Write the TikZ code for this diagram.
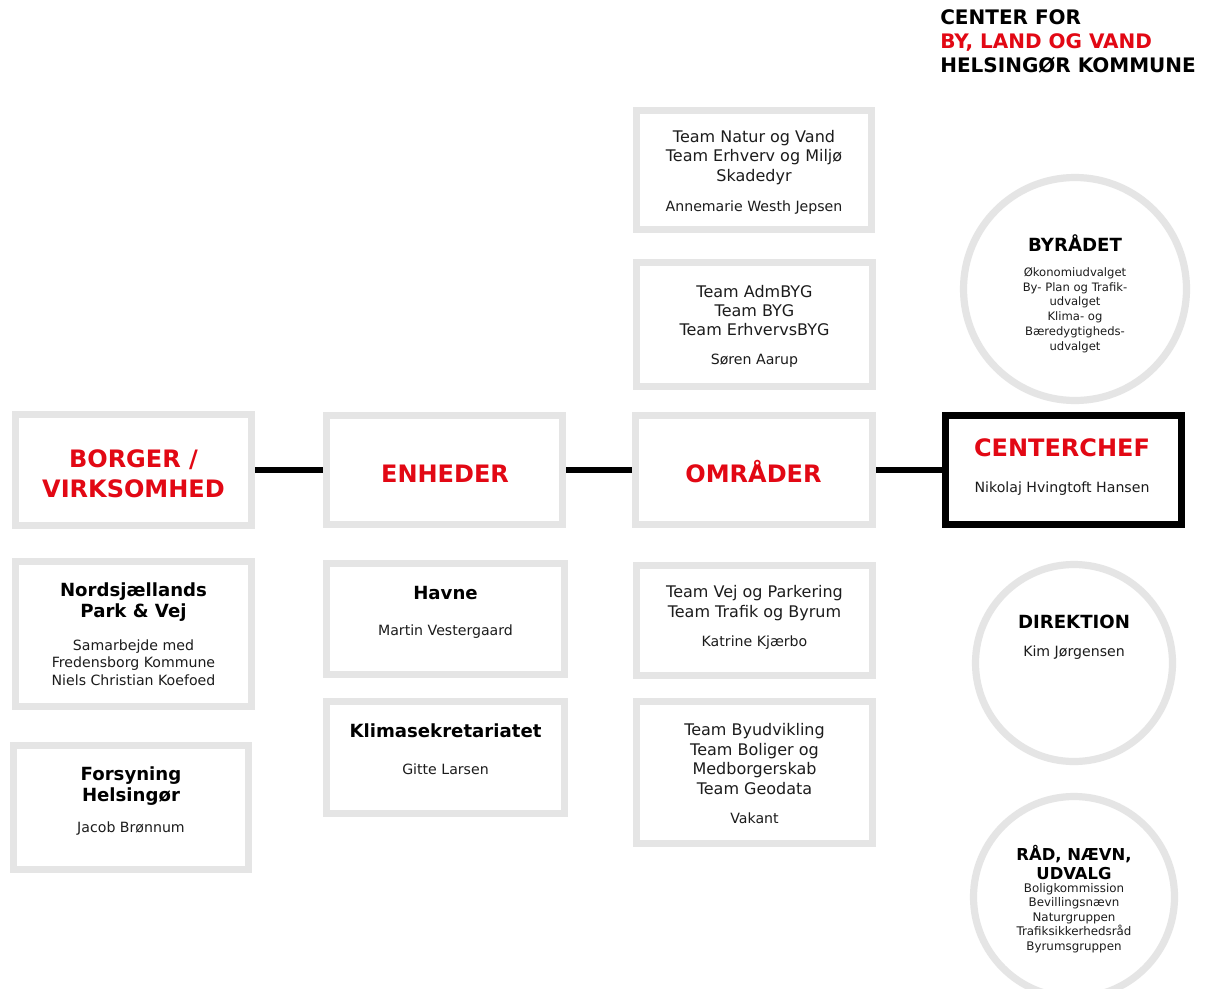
\documentclass[tikz,border=0pt]{standalone}
\usepackage{fontspec}
\setmainfont{DejaVu Sans}
\definecolor{ring}{RGB}{229,229,229}
\definecolor{hred}{RGB}{226,8,20}
\definecolor{txt}{RGB}{28,28,28}
\tikzset{
  gbox/.style={draw=ring, line width=5.4pt, rectangle, inner sep=0pt, fill=white},
  kbox/.style={draw=black, line width=5.25pt, rectangle, inner sep=0pt, fill=white},
  gcirc/.style={draw=ring, line width=5.4pt, circle, inner sep=0pt, fill=white},
  conn/.style={draw=black, line width=4.9pt},
  tl/.style={font=\fontsize{12}{14.6}\selectfont, align=center, text=txt, inner sep=0pt},
  nm/.style={font=\fontsize{10.6}{13.1}\selectfont, align=center, text=txt, inner sep=0pt},
  redh/.style={font=\bfseries\fontsize{18}{21}\selectfont, align=center, text=hred, inner sep=0pt},
  bt/.style={font=\bfseries\fontsize{13.6}{15.8}\selectfont, align=center, text=black, inner sep=0pt},
  sm/.style={font=\fontsize{8.7}{11.1}\selectfont, align=center, text=txt, inner sep=0pt},
  hdr/.style={font=\bfseries\fontsize{15}{18}\selectfont, align=left, inner sep=0pt, anchor=west},
}
\newcommand\gboxat[6]{\node[#6, minimum width={(#4-#2-7)*0.75pt}, minimum height={(#5-#3-7)*0.75pt}] (#1) at ({(#2+#4)/2},{(#3+#5)/2}) {};}
\begin{document}
\begin{tikzpicture}[x=0.75pt,y=-0.75pt]
\useasboundingbox (0,0) rectangle (1205,988);
\clip (0,0) rectangle (1205,988);
\fill[white] (0,0) rectangle (1205,988);

% header
\node[hdr] (header) at (940,41) {CENTER FOR\\\textcolor{hred}{BY, LAND OG VAND}\\HELSINGØR KOMMUNE};

% boxes
\gboxat{borger}{12}{411}{255}{529}{gbox}
\gboxat{enheder}{323}{412}{566}{528}{gbox}
\gboxat{omrader}{632}{412}{876}{528}{gbox}
\gboxat{chef}{942}{412}{1185}{528}{kbox}
\gboxat{natur}{633}{107}{875}{233}{gbox}
\gboxat{admbyg}{633}{259}{876}{390}{gbox}
\gboxat{vej}{633}{562}{876}{679}{gbox}
\gboxat{byudv}{633}{698}{876}{847}{gbox}
\gboxat{havne}{323}{560}{568}{678}{gbox}
\gboxat{klima}{323}{698}{568}{817}{gbox}
\gboxat{nord}{12}{558}{255}{710}{gbox}
\gboxat{fors}{10}{742}{252}{873}{gbox}

% circles
\node[gcirc, minimum size=167.25pt] (byraad) at (1075,289) {};
\node[gcirc, minimum size=147.75pt] (direk) at (1074,663) {};
\node[gcirc, minimum size=150.75pt] (raad) at (1074,897) {};

% connectors
\draw[conn] (borger.east) -- (enheder.west);
\draw[conn] (enheder.east) -- (omrader.west);
\draw[conn] (omrader.east) -- (chef.west);

% texts
\node[redh] (borger-t) at (133.5,474) {BORGER /\\[1.5pt]VIRKSOMHED};
\node[redh] (enheder-t) at (445,474) {ENHEDER};
\node[redh] (omrader-t) at (753.5,472) {OMRÅDER};
\node[redh] (chef-t) at (1062,448) {CENTERCHEF};
\node[nm] (chef-n) at (1062,489) {Nikolaj Hvingtoft Hansen};

\node[tl] (natur-t) at (754,157.5) {Team Natur og Vand\\Team Erhverv og Miljø\\Skadedyr};
\node[nm] (natur-n) at (754,208) {Annemarie Westh Jepsen};
\node[tl] (admbyg-t) at (754.5,310.5) {Team AdmBYG\\Team BYG\\Team ErhvervsBYG};
\node[nm] (admbyg-n) at (754.5,361) {Søren Aarup};
\node[tl] (vej-t) at (754.5,603) {Team Vej og Parkering\\Team Trafik og Byrum};
\node[nm] (vej-n) at (754.5,643) {Katrine Kjærbo};
\node[tl] (byudv-t) at (754.5,759) {Team Byudvikling\\Team Boliger og\\Medborgerskab\\Team Geodata};
\node[nm] (byudv-n) at (754.5,818) {Vakant};

\node[bt] (havne-t) at (445.5,593) {Havne};
\node[nm] (havne-n) at (445.5,632) {Martin Vestergaard};
\node[bt] (klima-t) at (445.5,731) {Klimasekretariatet};
\node[nm] (klima-n) at (445.5,769) {Gitte Larsen};

\node[bt] (nord-t) at (133.5,602.5) {Nordsjællands\\Park \& Vej};
\node[nm] (nord-n) at (133.5,662.5) {Samarbejde med\\Fredensborg Kommune\\Niels Christian Koefoed};
\node[bt] (fors-t) at (131,786) {Forsyning\\Helsingør};
\node[nm] (fors-n) at (131,829) {Jacob Brønnum};

\node[bt] (byraad-t) at (1075,243) {BYRÅDET};
\node[sm] (byraad-n) at (1075,310) {Økonomiudvalget\\By- Plan og Trafik-\\udvalget\\Klima- og\\Bæredygtigheds-\\udvalget};
\node[bt] (direk-t) at (1074,622) {DIREKTION};
\node[nm] (direk-n) at (1074,653) {Kim Jørgensen};
\node[bt, font=\bfseries\fontsize{12.3}{14.25}\selectfont] (raad-t) at (1074,862.5) {RÅD, NÆVN,\\UDVALG};
\node[sm, font=\fontsize{8.9}{10.9}\selectfont] (raad-n) at (1074,918) {Boligkommission\\Bevillingsnævn\\Naturgruppen\\Trafiksikkerhedsråd\\Byrumsgruppen};
\end{tikzpicture}
\end{document}
